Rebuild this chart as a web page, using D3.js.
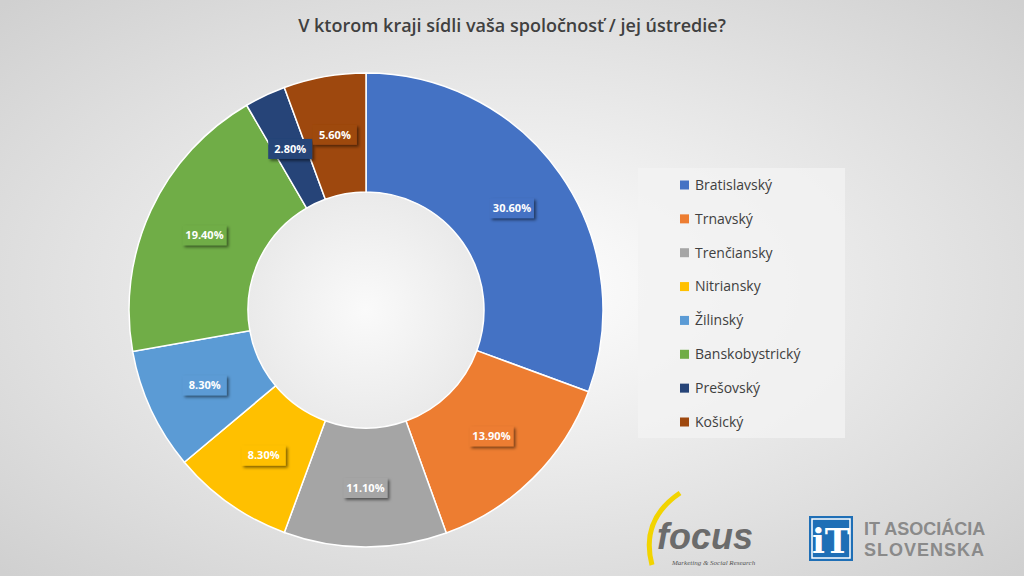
<!DOCTYPE html>
<html><head><meta charset="utf-8">
<script src="https://cdn.jsdelivr.net/npm/d3@7"></script>
<style>body{margin:0;overflow:hidden}</style>
</head><body><svg id="c" width="1024" height="576"></svg>
<script>
var regions = ["Bratislavský","Trnavský","Trenčiansky","Nitriansky","Žilinský","Banskobystrický","Prešovský","Košický"];
var shares = [30.6,13.9,11.1,8.3,8.3,19.4,2.8,5.6];
var colors = ["#4472c4","#ed7d31","#a5a5a5","#ffc000","#5b9bd5","#70ad47","#264478","#9e480e"];

var svg = d3.select("#c");
var defs = svg.append("defs");
var bg = defs.append("radialGradient").attr("id","bg").attr("cx","50%").attr("cy","50%").attr("r","70%");
bg.append("stop").attr("offset","0").attr("stop-color","#ffffff");
bg.append("stop").attr("offset","1").attr("stop-color","#d0d0d0");
var hole = defs.append("radialGradient").attr("id","hole");
hole.append("stop").attr("offset","0").attr("stop-color","#fafafa");
hole.append("stop").attr("offset","1").attr("stop-color","#eaeaea");
var sh = defs.append("filter").attr("id","sh").attr("x","-20%").attr("y","-20%").attr("width","150%").attr("height","160%");
sh.append("feDropShadow").attr("dx",2).attr("dy",2).attr("stdDeviation",1.5).attr("flood-opacity",0.5);

svg.append("rect").attr("width",1024).attr("height",576).attr("fill","url(#bg)");
svg.append("text").attr("x",512).attr("y",32).attr("text-anchor","middle")
  .attr("font-family","Open Sans").attr("font-size",18).attr("font-weight",600).attr("fill","#404040")
  .text("V ktorom kraji sídli vaša spoločnosť / jej ústredie?");

var cx = 366, cy = 310, R = 237, r0 = 118;
var pie = d3.pie().sort(null).value(d => d);
var arc = d3.arc().innerRadius(r0).outerRadius(R);
var labelArc = d3.arc().innerRadius(178).outerRadius(178);
var g = svg.append("g").attr("transform","translate("+cx+","+cy+")");
g.append("circle").attr("r",r0).attr("fill","url(#hole)");
var arcs = pie(shares);
g.selectAll("path.s").data(arcs).join("path").attr("class","s")
  .attr("d",arc).attr("fill",(d,i)=>colors[i]).attr("stroke","#fff").attr("stroke-width",1.5);

var lab = g.selectAll("g.l").data(arcs).join("g").attr("class","l")
  .attr("transform",d=>"translate("+labelArc.centroid(d)+")");
lab.append("rect").attr("x",-22).attr("y",-10).attr("width",44).attr("height",20)
  .attr("fill",(d,i)=>colors[i]).attr("filter","url(#sh)");
lab.append("text").attr("text-anchor","middle").attr("dy","0.35em")
  .attr("font-family","Open Sans").attr("font-size",11).attr("font-weight",700).attr("fill","#fff")
  .text(d=>d.data.toFixed(2)+"%");

var leg = svg.append("g");
leg.append("rect").attr("x",638).attr("y",168).attr("width",207).attr("height",270).attr("fill","#f2f2f2").attr("opacity",0.8);
var ly = d3.scalePoint().domain(regions).range([185,422]);
regions.forEach(function(n,i){
  leg.append("rect").attr("x",680).attr("y",ly(n)-4.5).attr("width",9).attr("height",9).attr("fill",colors[i]);
  leg.append("text").attr("x",695).attr("y",ly(n)).attr("dy","0.35em")
    .attr("font-family","Open Sans").attr("font-size",14).attr("fill","#404040").text(n);
});

// logos
var lg = svg.append("g");
lg.append("path").attr("d","M680,493 Q640,520 652,565").attr("fill","none").attr("stroke","#f2d400").attr("stroke-width",5);
lg.append("text").attr("x",657).attr("y",549).attr("font-family","Liberation Sans").attr("font-style","italic")
  .attr("font-weight",700).attr("font-size",36).attr("fill","#6b6b6b").text("focus");
lg.append("text").attr("x",672).attr("y",565).attr("font-family","Liberation Serif").attr("font-style","italic")
  .attr("font-size",7).attr("fill","#555").text("Marketing & Social Research");
lg.append("rect").attr("x",809).attr("y",516).attr("width",44).attr("height",45).attr("fill","#1f6fb6");
lg.append("rect").attr("x",812).attr("y",519).attr("width",38).attr("height",39).attr("fill","none").attr("stroke","#fff").attr("stroke-width",1.5);
lg.append("text").attr("x",831).attr("y",553).attr("text-anchor","middle").attr("font-family","DejaVu Serif")
  .attr("font-weight",700).attr("font-size",34).attr("fill","#fff").text("iT");
lg.append("text").attr("x",864).attr("y",535).attr("font-family","Liberation Sans").attr("font-weight",700)
  .attr("font-size",18).attr("fill","#8a8a8a").text("IT ASOCIÁCIA");
lg.append("text").attr("x",864).attr("y",556).attr("font-family","Liberation Sans").attr("font-weight",700)
  .attr("font-size",18).attr("fill","#8a8a8a").attr("letter-spacing",1).text("SLOVENSKA");
</script></body></html>
